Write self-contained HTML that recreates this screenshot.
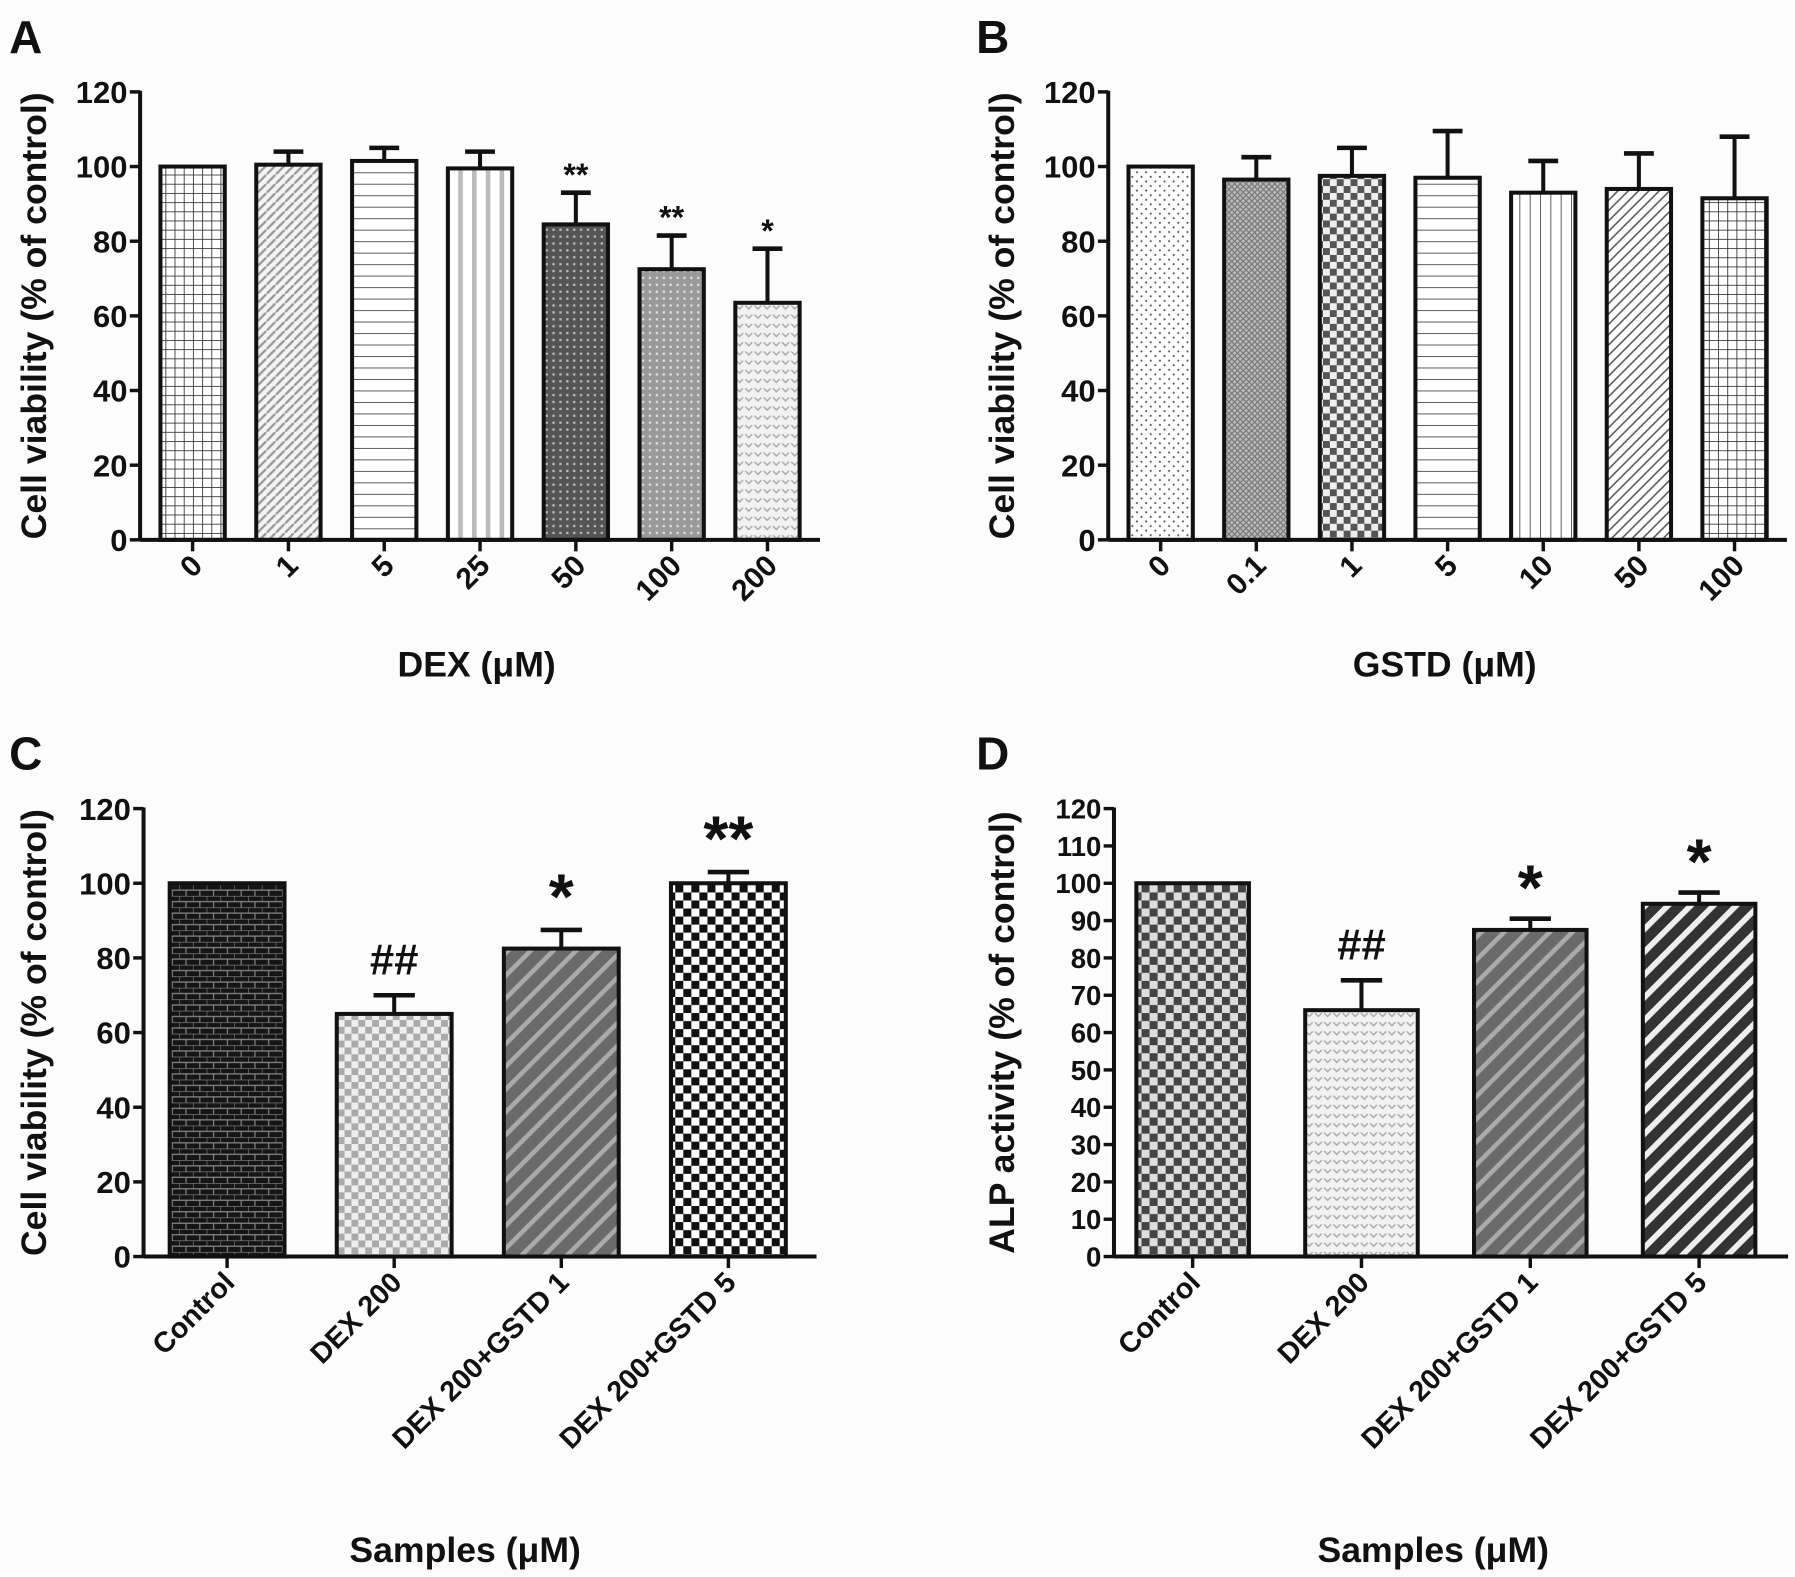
<!DOCTYPE html>
<html><head><meta charset="utf-8">
<style>
html,body{margin:0;padding:0;background:#fcfcfc;}
svg{display:block;}
text{font-family:"Liberation Sans",Arial,sans-serif;font-weight:bold;fill:#111;}
</style></head>
<body>
<svg id="fig" width="1795" height="1577" viewBox="0 0 1563 1373" preserveAspectRatio="none" xmlns="http://www.w3.org/2000/svg">
<defs>
<pattern id="pGrid" width="8" height="8" patternUnits="userSpaceOnUse"><rect width="8" height="8" fill="#fff"/><path d="M0 0H8M0 0V8" stroke="#333" stroke-width="1.5"/></pattern>
<pattern id="pDiagLight" width="8" height="8" patternUnits="userSpaceOnUse"><rect width="8" height="8" fill="#f4f4f4"/><path d="M0 8L8 0" stroke="#999" stroke-width="2"/></pattern>
<pattern id="pHoriz" width="10" height="10" patternUnits="userSpaceOnUse"><rect width="10" height="10" fill="#fff"/><path d="M0 0H10" stroke="#444" stroke-width="1.5"/></pattern>
<pattern id="pVertGray" width="12" height="12" patternUnits="userSpaceOnUse"><rect width="12" height="12" fill="#fff"/><rect x="3" width="4" height="12" fill="#bbb"/></pattern>
<pattern id="pDark" width="6" height="6" patternUnits="userSpaceOnUse"><rect width="6" height="6" fill="#555"/><rect x="1" y="1" width="2" height="2" fill="#bbb"/></pattern>
<pattern id="pMid" width="6" height="6" patternUnits="userSpaceOnUse"><rect width="6" height="6" fill="#999"/><rect x="1" y="1" width="2" height="2" fill="#e0e0e0"/></pattern>
<pattern id="pChev" width="8" height="8" patternUnits="userSpaceOnUse"><rect width="8" height="8" fill="#f2f2f2"/><path d="M1 2L4 5L7 2" stroke="#aaa" stroke-width="1.3" fill="none"/></pattern>
<pattern id="pDots" width="8" height="8" patternUnits="userSpaceOnUse"><rect width="8" height="8" fill="#fff"/><circle cx="2" cy="2" r="0.9" fill="#555"/><circle cx="6" cy="6" r="0.9" fill="#555"/></pattern>
<pattern id="pCross" width="5" height="5" patternUnits="userSpaceOnUse"><rect width="5" height="5" fill="#bbb"/><path d="M0 5L5 0M0 0L5 5" stroke="#777" stroke-width="1"/></pattern>
<pattern id="pChecker" width="12" height="12" patternUnits="userSpaceOnUse"><rect width="12" height="12" fill="#eee"/><rect width="6" height="6" fill="#555"/><rect x="6" y="6" width="6" height="6" fill="#555"/></pattern>
<pattern id="pVert" width="9" height="9" patternUnits="userSpaceOnUse"><rect width="9" height="9" fill="#fff"/><path d="M0 0V9" stroke="#444" stroke-width="1.5"/></pattern>
<pattern id="pDiag" width="9" height="9" patternUnits="userSpaceOnUse"><rect width="9" height="9" fill="#fff"/><path d="M0 9L9 0M-2 2L2 -2M7 11L11 7" stroke="#555" stroke-width="1.3"/></pattern>
<pattern id="pBrick" width="12" height="10" patternUnits="userSpaceOnUse"><rect width="12" height="10" fill="#151515"/><path d="M0 0H12M0 5H12M0 0V5M6 5V10" stroke="#888" stroke-width="1"/></pattern>
<pattern id="pCheckLight" width="12" height="12" patternUnits="userSpaceOnUse"><rect width="12" height="12" fill="#eee"/><rect width="6" height="6" fill="#aaa"/><rect x="6" y="6" width="6" height="6" fill="#aaa"/></pattern>
<pattern id="pStripeGray" width="14" height="14" patternUnits="userSpaceOnUse" patternTransform="rotate(45)"><rect width="14" height="14" fill="#6a6a6a"/><rect width="4" height="14" fill="#aaa"/></pattern>
<pattern id="pCheckBW" width="14" height="14" patternUnits="userSpaceOnUse"><rect width="14" height="14" fill="#fff"/><rect width="7" height="7" fill="#111"/><rect x="7" y="7" width="7" height="7" fill="#111"/></pattern>
<pattern id="pCheckD" width="14" height="14" patternUnits="userSpaceOnUse"><rect width="14" height="14" fill="#ddd"/><rect width="7" height="7" fill="#444"/><rect x="7" y="7" width="7" height="7" fill="#444"/></pattern>
<pattern id="pStripeBW" width="14" height="14" patternUnits="userSpaceOnUse" patternTransform="rotate(45)"><rect width="14" height="14" fill="#333"/><rect width="5" height="14" fill="#eee"/></pattern>
</defs>
</svg>
<script>
const NS='http://www.w3.org/2000/svg';
const svg=document.getElementById('fig');

// Panel A data
const aCats=['0','1','5','25','50','100','200'];
const aVals=[100,100.5,101.5,99.5,84.5,72.5,63.5];
const aErr=[0,3.5,3.5,4.5,8.5,9,14.5];
const aSig=['','','','','**','**','*'];
// Panel B data
const bCats=['0','0.1','1','5','10','50','100'];
const bVals=[100,96.5,97.5,97,93,94,91.5];
const bErr=[0,6,7.5,12.5,8.5,9.5,16.5];
const bSig=['','','','','','',''];
// Panel C data
const cCats=['Control','DEX 200','DEX 200+GSTD 1','DEX 200+GSTD 5'];
const cVals=[100,65,82.5,100];
const cErr=[0,5,5,3];
const cSig=['','##','*','**'];
// Panel D data
const dCats=['Control','DEX 200','DEX 200+GSTD 1','DEX 200+GSTD 5'];
const dVals=[100,66,87.5,94.5];
const dErr=[0,8,3,3];
const dSig=['','##','*','*'];
const ticks20=[0,20,40,60,80,100,120];
const ticks10=[0,10,20,30,40,50,60,70,80,90,100,110,120];

function mk(tag,attrs,parent){const e=document.createElementNS(NS,tag);for(const k in attrs)e.setAttribute(k,attrs[k]);(parent||svg).appendChild(e);return e;}

function panel(o){
  const g=mk('g',{});
  
  
  const y=v=>o.y0-(v/120)*(o.y0-o.y120);
  const n=o.cats.length;
  const step=(o.x1-o.x0)/n;
  const cx=i=>o.x0+step*(i+0.5);
  const L=mk('text',{x:o.lx,y:o.ly,'font-size':40},g);L.textContent=o.letter;
  
  
  const ya=mk('line',{x1:o.ax,y1:y(120)-1,x2:o.ax,y2:o.y0,stroke:'#111','stroke-width':3.5},g);
  
  
  o.ticks.forEach(t=>{
    mk('line',{x1:o.ax-9,y1:y(t),x2:o.ax,y2:y(t),stroke:'#111','stroke-width':3},g);
    const tl=mk('text',{x:o.ax-11,y:y(t)+o.tfs*0.36,'text-anchor':'end','font-size':o.tfs},g);tl.textContent=t;
    
    
  });
  const yt=mk('text',{x:0,y:0,'text-anchor':'middle','font-size':31,transform:`translate(${o.ytx},${(y(0)+y(120))/2}) rotate(-90)`},g);
  yt.textContent=o.ytitle;
  
  
  o.vals.forEach((v,i)=>{
    const bx=cx(i)-o.bw/2;
    if(o.err[i]>0){
      mk('line',{x1:cx(i),y1:y(v),x2:cx(i),y2:y(v+o.err[i]),stroke:'#111','stroke-width':3.5},g);
      const c=mk('line',{x1:cx(i)-o.cap/2,y1:y(v+o.err[i]),x2:cx(i)+o.cap/2,y2:y(v+o.err[i]),stroke:'#111','stroke-width':4},g);
      
      
    }
    const r=mk('rect',{x:bx,y:y(v),width:o.bw,height:y(0)-y(v),fill:`url(#${o.fills[i]})`,stroke:o.stroke||'#111','stroke-width':3.5},g);
    
    
    if(o.sig[i]){
      const isStar=o.sig[i].indexOf('*')>=0;
      const s=mk('text',{x:cx(i),y:y(v+o.err[i])-(isStar?o.starGap:o.sigGap),'text-anchor':'middle','font-size':isStar?o.starFs:o.sfs,'font-weight':'normal'},g);
      s.textContent=o.sig[i];
      
      
    }
    mk('line',{x1:cx(i),y1:o.y0,x2:cx(i),y2:o.y0+10,stroke:'#111','stroke-width':3},g);
    const xl=mk('text',{x:0,y:0,'text-anchor':'end','font-size':o.xfs,transform:`translate(${cx(i)+o.xdx},${o.y0+o.xdy}) rotate(-45)`},g);
    xl.textContent=o.cats[i];
    
    
  });
  const xa=mk('line',{x1:o.ax,y1:o.y0,x2:o.x1+4,y2:o.y0,stroke:'#111','stroke-width':3.5},g);
  
  
  const xt=mk('text',{x:o.xtx,y:o.xty,'text-anchor':'middle','font-size':31},g);
  xt.textContent=o.xtitle;
  
  
}

panel({name:'panel-a',letter:'A',lx:8,ly:46,ax:122,x0:126,x1:710,y0:470,y120:80,ticks:ticks20,tfs:27,
  cats:aCats,vals:aVals,err:aErr,sig:aSig,bw:56,cap:26,sigGap:6,starGap:6,sfs:26,starFs:28,
  fills:['pGrid','pDiagLight','pHoriz','pVertGray','pDark','pMid','pChev'],
  ytitle:'Cell viability (% of control)',ytx:40,xtitle:'DEX (μM)',xtx:415,xty:589,xfs:26,xdx:10,xdy:24});
panel({name:'panel-b',letter:'B',lx:850,ly:46,ax:965,x0:969,x1:1552,y0:470,y120:80,ticks:ticks20,tfs:27,
  cats:bCats,vals:bVals,err:bErr,sig:bSig,bw:56,cap:26,sigGap:6,starGap:6,sfs:26,starFs:28,
  fills:['pDots','pCross','pChecker','pHoriz','pVert','pDiag','pGrid'],
  ytitle:'Cell viability (% of control)',ytx:883,xtitle:'GSTD (μM)',xtx:1258,xty:589,xfs:26,xdx:10,xdy:24});
panel({name:'panel-c',letter:'C',lx:8,ly:670,ax:125,x0:125,x1:707,y0:1094,y120:704,ticks:ticks20,tfs:27,
  cats:cCats,vals:cVals,err:cErr,sig:cSig,bw:100,cap:36,sigGap:18,starGap:10,sfs:38,starFs:56,
  fills:['pBrick','pCheckLight','pStripeGray','pCheckBW'],
  ytitle:'Cell viability (% of control)',ytx:40,xtitle:'Samples (μM)',xtx:405,xty:1360,xfs:25,xdx:8,xdy:24});
panel({name:'panel-d',letter:'D',lx:850,ly:670,ax:970,x0:965,x1:1553,y0:1094,y120:704,ticks:ticks10,tfs:24,
  cats:dCats,vals:dVals,err:dErr,sig:dSig,bw:98,cap:36,sigGap:18,starGap:8,sfs:38,starFs:56,
  fills:['pCheckD','pChev','pStripeGray','pStripeBW'],
  ytitle:'ALP activity (% of control)',ytx:883,xtitle:'Samples (μM)',xtx:1248,xty:1360,xfs:25,xdx:8,xdy:24});
</script>
</body></html>
